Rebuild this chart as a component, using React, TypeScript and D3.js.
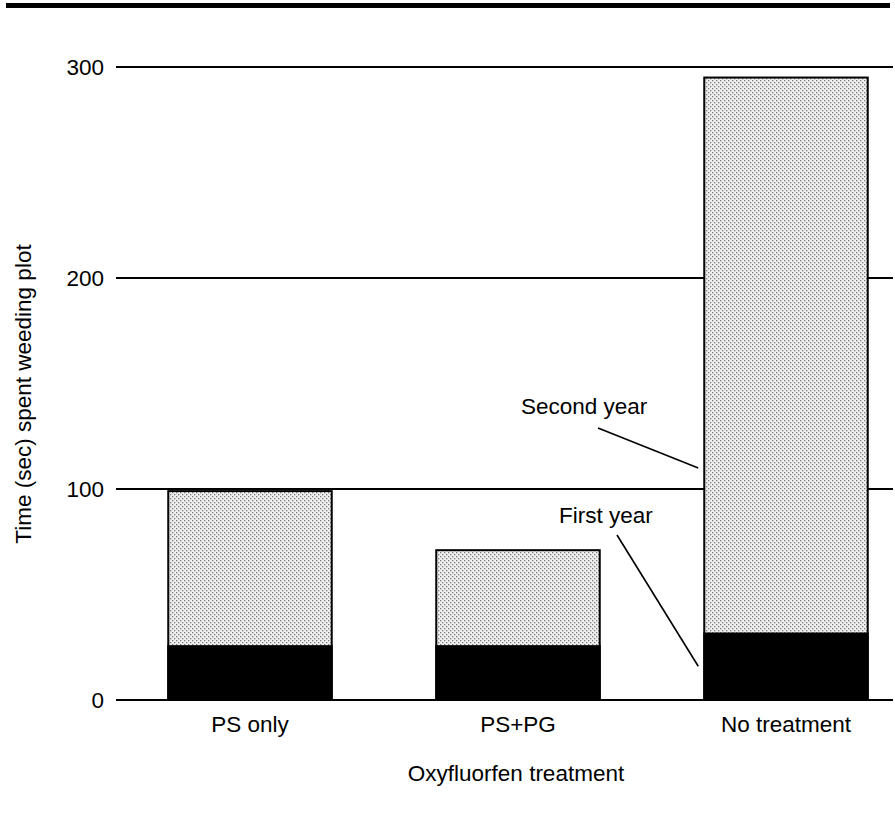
import React, { useEffect, useRef } from 'react';
import * as d3 from 'd3';

// values (sec)
const treatments = ['PS only', 'PS+PG', 'No treatment'];
const firstYear = [26, 26, 32];
const totalTime = [99, 71, 295];
const yTicks = [0, 100, 200, 300];

// leader notes: value where the line meets the third bar
const noteLabels = ['Second year', 'First year'];
const noteValues = [110, 16];

const W = 895;
const H = 824;
const FONT = '"Liberation Sans", Arial, Helvetica, sans-serif';
const FS = '22.5px';

const App = () => {
  const ref = useRef<SVGSVGElement>(null);

  useEffect(() => {
    const svg = d3.select(ref.current);
    svg.selectAll('*').remove();

    const x = d3.scaleBand().domain(treatments).range([116, 920]).paddingInner(0.39).paddingOuter(0.195);
    const y = d3.scaleLinear().domain([0, 300]).range([700, 67]);
    const left = 116;
    const right = 893;

    // stipple fill
    const pat = svg.append('defs').append('pattern')
      .attr('id', 'stipple').attr('width', 4).attr('height', 4)
      .attr('patternUnits', 'userSpaceOnUse');
    pat.append('rect').attr('width', 4).attr('height', 4).attr('fill', '#f0f0f0');
    pat.append('rect').attr('x', 0).attr('y', 0).attr('width', 1.3).attr('height', 1.3).attr('fill', '#7a7a7a');
    pat.append('rect').attr('x', 2).attr('y', 2).attr('width', 1.3).attr('height', 1.3).attr('fill', '#7a7a7a');

    // heavy rule at the top of the figure
    svg.append('rect').attr('x', 6).attr('y', 3).attr('width', 884).attr('height', 5).attr('fill', '#000');

    // gridlines
    svg.append('g').selectAll('line').data(yTicks).enter().append('line')
      .attr('x1', left).attr('x2', right)
      .attr('y1', d => y(d)).attr('y2', d => y(d))
      .attr('stroke', '#000').attr('stroke-width', 2);

    svg.append('g').selectAll('text').data(yTicks).enter().append('text')
      .attr('x', 104).attr('y', d => y(d)).attr('dy', '0.35em')
      .attr('text-anchor', 'end')
      .style('font-family', FONT).style('font-size', FS)
      .text(d => d);

    // bars
    const bars = svg.append('g').selectAll('g').data(treatments).enter().append('g');
    bars.append('rect')
      .attr('x', d => x(d)!).attr('width', x.bandwidth())
      .attr('y', (d, i) => y(totalTime[i])).attr('height', (d, i) => y(0) - y(totalTime[i]))
      .attr('fill', 'url(#stipple)').attr('stroke', '#000').attr('stroke-width', 2);
    bars.append('rect')
      .attr('x', d => x(d)! - 1).attr('width', x.bandwidth() + 2)
      .attr('y', (d, i) => y(firstYear[i])).attr('height', (d, i) => y(0) - y(firstYear[i]))
      .attr('fill', '#000');

    // category labels
    svg.append('g').selectAll('text').data(treatments).enter().append('text')
      .attr('x', d => x(d)! + x.bandwidth() / 2).attr('y', 732)
      .attr('text-anchor', 'middle')
      .style('font-family', FONT).style('font-size', FS)
      .text(d => d);

    // axis titles
    svg.append('text')
      .attr('x', 516).attr('y', 781).attr('text-anchor', 'middle')
      .style('font-family', FONT).style('font-size', FS)
      .text('Oxyfluorfen treatment');
    svg.append('text')
      .attr('transform', 'translate(31,394) rotate(-90)').attr('text-anchor', 'middle')
      .style('font-family', FONT).style('font-size', FS)
      .text('Time (sec) spent weeding plot');

    // leader notes pointing into the "No treatment" bar
    const bx = x('No treatment')!;
    const notePos = [
      { tx: 521, ty: 414, lx: 598, ly: 428 },
      { tx: 559, ty: 523, lx: 617, ly: 535 },
    ];
    notePos.forEach((p, i) => {
      svg.append('text').attr('x', p.tx).attr('y', p.ty)
        .style('font-family', FONT).style('font-size', FS)
        .text(noteLabels[i]);
      svg.append('line')
        .attr('x1', p.lx).attr('y1', p.ly)
        .attr('x2', bx - 6).attr('y2', y(noteValues[i]))
        .attr('stroke', '#000').attr('stroke-width', 1.6);
    });
  }, []);

  return (
    <svg ref={ref} width={W} height={H}
      style={{ position: 'absolute', left: 0, top: 0, background: '#fff' }} />
  );
};

export default App;
